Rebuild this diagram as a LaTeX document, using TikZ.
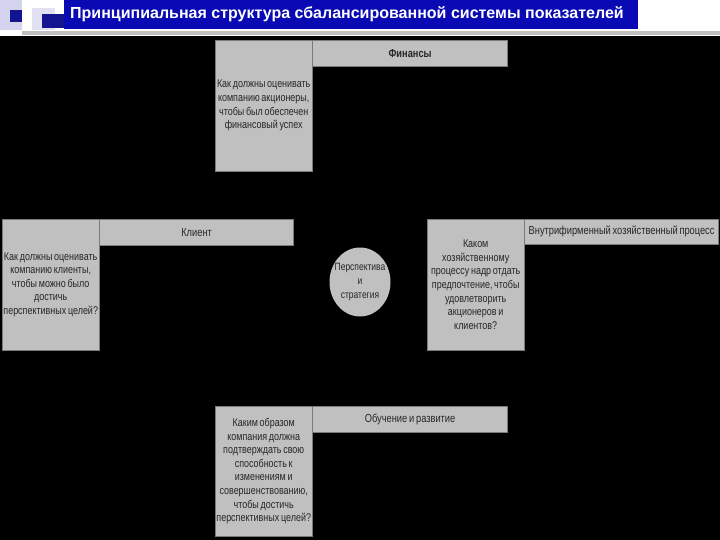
\documentclass[tikz,border=0pt]{standalone}
\usepackage{fontspec}
\setmainfont{Liberation Sans}
\newfontfamily\narrowsf{Liberation Sans}[FakeStretch=0.8,WordSpace=0.7]
\usepackage{xcolor}
\usetikzlibrary{positioning,shapes.geometric}

\definecolor{boxgray}{HTML}{C0C0C0}
\definecolor{edgegray}{HTML}{7A7A7A}
\definecolor{titleblue}{HTML}{0A0AB4}
\definecolor{navy}{HTML}{141490}
\definecolor{lavender}{HTML}{D4D4EE}

\tikzset{
  quest/.style={draw=edgegray, fill=boxgray, anchor=north west, minimum width=97pt,
    minimum height=131pt, text width=96pt, align=flush center, inner sep=0pt,
    font=\narrowsf\fontsize{11.2}{13.6}\selectfont, text=black!85},
  persp/.style={draw=edgegray, fill=boxgray, anchor=north west, minimum width=195pt,
    minimum height=26pt, inner sep=0pt, font=\narrowsf\fontsize{11.6}{12}\selectfont, text=black!85},
}

\begin{document}
\begin{tikzpicture}[x=1pt,y=-1pt]
    \useasboundingbox (0,0) rectangle (720,540);
    \fill[black] (0,36) rectangle (720,540);
    % header decoration
    \fill[lavender] (0,0) rectangle (22,30);
    \fill[navy] (10,10) rectangle (22,22);
    \fill[lavender!70] (32,8) rectangle (55,30);
    \fill[navy] (42,14) rectangle (64,28);
    \fill[black!25] (22,31) rectangle (720,35);
    \fill[titleblue] (64,0) rectangle (638,29);
    \node[anchor=west, inner sep=0pt, text=white,
      font=\fontsize{16}{17}\selectfont\bfseries] (title) at (70,14)
      {Принципиальная структура сбалансированной системы показателей};

    % Финансы
    \node[quest] (finq) at (215,40) {Как должны оценивать\\компанию акционеры,\\чтобы был обеспечен\\финансовый успех};
    \node[persp, font=\narrowsf\fontsize{11.6}{12}\selectfont\bfseries] (fin) at (finq.north east) {Финансы};

    % Клиент
    \node[quest] (cliq) at (2,219) {Как должны оценивать\\компанию клиенты,\\чтобы можно было\\достичь\\перспективных целей?};
    \node[persp, minimum width=194pt] (cli) at (cliq.north east) {Клиент};

    % Внутрифирменный процесс
    \node[quest] (proq) at (427,219) {Каком\\хозяйственному\\процессу надр отдать\\предпочтение, чтобы\\удовлетворить\\акционеров и\\клиентов?};
    \node[persp, minimum width=194pt, minimum height=25pt] (pro) at (proq.north east) {Внутрифирменный хозяйственный процесс};

    % Обучение и развитие
    \node[quest, minimum height=130pt] (eduq) at (215,406) {Каким образом\\компания должна\\подтверждать свою\\способность к\\изменениям и\\совершенствованию,\\чтобы достичь\\перспективных целей?};
    \node[persp] (edu) at (eduq.north east) {Обучение и развитие};

    % центр
    \node[ellipse, fill=boxgray, minimum width=61pt, minimum height=69pt, inner sep=0pt,
      label={[align=flush center, font=\narrowsf\fontsize{10.6}{13.6}\selectfont, text=black!85]center:Перспектива\\и\\стратегия}] (strat) at (360,282) {};
\end{tikzpicture}
\end{document}
